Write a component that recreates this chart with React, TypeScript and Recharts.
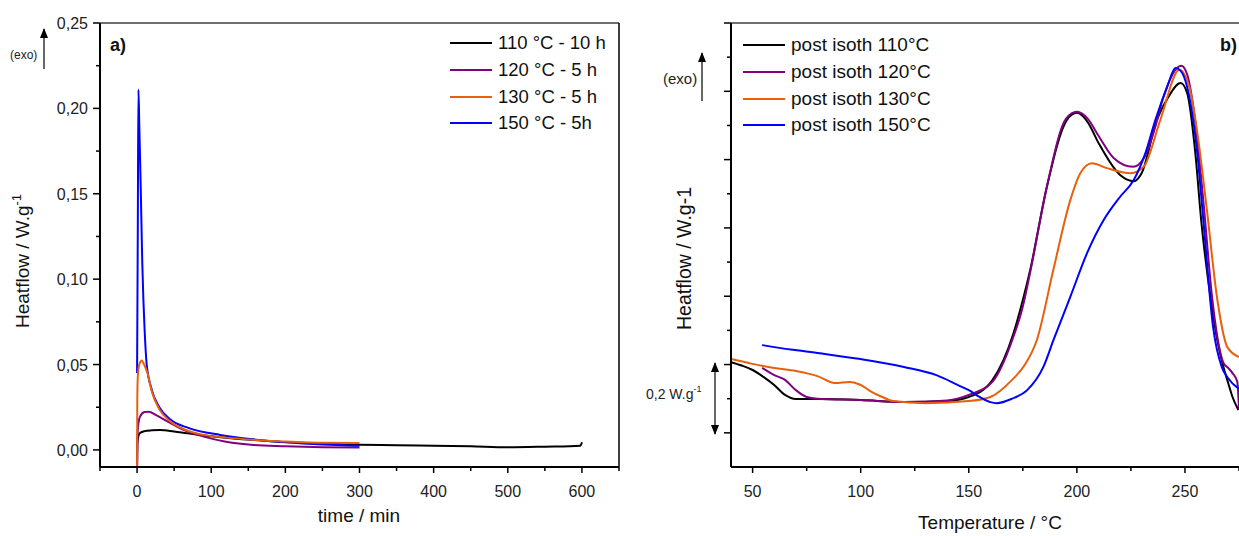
import React from 'react';
import { LineChart, Line, XAxis, YAxis, Legend, ReferenceLine } from 'recharts';

const FONT = '"Liberation Sans", Arial, Helvetica, sans-serif';

type Pt = { x: number; y: number };
const pts = (rows: number[][]): Pt[] => rows.map(([x, y]) => ({ x, y }));

// ---- panel a) : isothermal runs, heat flow (W/g) vs time (min)
const isoLabels = ['110 °C - 10 h', '120 °C - 5 h', '130 °C - 5 h', '150 °C - 5h'];
const seriesColors = ['#000000', '#800080', '#e8600c', '#0000ff'];

const iso110 = pts([
  [0, -0.01], [0.5, 0.004], [2, 0.0085], [4, 0.0099], [10, 0.011], [20, 0.0115], [31, 0.0117],
  [50, 0.0108], [67, 0.0098], [100, 0.008], [130, 0.0067], [157, 0.0059], [200, 0.0046],
  [250, 0.0037], [300, 0.003], [350, 0.0028], [400, 0.0025], [450, 0.0021], [500, 0.0015],
  [550, 0.0019], [598, 0.0025], [600, 0.0045],
]);
const iso120 = pts([
  [0, -0.01], [0.5, 0.008], [2, 0.016], [4, 0.0195], [10, 0.0222], [16, 0.0224], [25, 0.0205],
  [44.6, 0.0158], [65, 0.0113], [90, 0.0078], [120, 0.0048], [157, 0.0029], [200, 0.0022],
  [250, 0.0016], [300, 0.0014],
]);
const iso130 = pts([
  [0, -0.01], [0.3, 0.03], [1, 0.043], [3, 0.05], [6.3, 0.0523], [9, 0.0505], [14, 0.045],
  [20, 0.034], [30, 0.0238], [45, 0.0166], [65, 0.0118], [90, 0.0088], [120, 0.0072],
  [157, 0.0059], [200, 0.005], [250, 0.0042], [300, 0.004],
]);
const iso150 = pts([
  [0, 0.045], [1, 0.13], [1.8, 0.211], [3, 0.19], [5, 0.152], [7, 0.11], [8.5, 0.088], [10, 0.072],
  [13, 0.05], [20, 0.035], [30, 0.025], [45, 0.0178], [70, 0.0128], [112, 0.0088], [157, 0.0062],
  [200, 0.0045], [250, 0.0032], [300, 0.0025],
]);

const timeTicks = [-50, 0, 50, 100, 150, 200, 250, 300, 350, 400, 450, 500, 550, 600, 650];
const isoHfTicks = [0, 0.025, 0.05, 0.075, 0.1, 0.125, 0.15, 0.175, 0.2, 0.225, 0.25];

// ---- panel b) : post-isothermal scans, heat flow (arb., 0.1 W/g per tick) vs temperature
const postLabels = ['post isoth 110°C', 'post isoth 120°C', 'post isoth 130°C', 'post isoth 150°C'];

const post110 = pts([
  [40, 0.307], [45, 0.297], [50, 0.284], [55, 0.264], [60, 0.24], [65, 0.211], [70, 0.199],
  [80, 0.199], [100, 0.196], [120, 0.19], [140, 0.193], [150, 0.205], [161, 0.255], [170.6, 0.39],
  [175, 0.489], [178.4, 0.577], [186.1, 0.82], [195.4, 1.016], [200, 1.037], [205, 1.01],
  [210, 0.949], [220, 0.855], [226.3, 0.837], [230, 0.861], [237, 1.016], [242, 1.08],
  [248, 1.124], [251, 1.095], [254.8, 0.919], [257.5, 0.723], [262, 0.489], [265, 0.37],
  [267.8, 0.293], [270, 0.246], [272, 0.205], [274.7, 0.167],
]);
const post120 = pts([
  [54.4, 0.29], [60, 0.269], [65, 0.255], [70, 0.225], [75, 0.205], [80, 0.2], [100, 0.196],
  [120, 0.19], [140, 0.195], [150, 0.211], [161, 0.25], [170, 0.37], [175, 0.47], [178.4, 0.57],
  [186.1, 0.82], [195, 1.02], [200, 1.04], [205, 1.02], [210, 0.97], [217, 0.905], [226, 0.879],
  [231, 0.905], [236, 0.99], [240, 1.083], [248.3, 1.175], [251, 1.15], [255, 1.0], [258.5, 0.78],
  [262.5, 0.5], [265, 0.38], [267.8, 0.305], [270, 0.29], [272, 0.275], [274.2, 0.25], [275, 0.17],
]);
const post130 = pts([
  [40, 0.316], [50, 0.302], [60, 0.29], [70, 0.281], [80, 0.266], [88, 0.246], [95, 0.249],
  [100, 0.24], [105, 0.22], [110, 0.205], [115, 0.193], [130, 0.187], [150, 0.193], [160, 0.205],
  [170, 0.255], [176, 0.3], [181.5, 0.372], [189.1, 0.577], [197, 0.782], [201.6, 0.86],
  [207, 0.889], [213.9, 0.875], [224.7, 0.86], [230.9, 0.879], [238.6, 1.016], [247.4, 1.163],
  [252, 1.113], [256, 0.966], [260, 0.761], [265, 0.489], [269.6, 0.351], [275, 0.322],
]);
const post150 = pts([
  [54.4, 0.357], [60, 0.351], [80, 0.334], [100, 0.316], [120, 0.293], [135, 0.269], [145, 0.24],
  [150, 0.225], [155, 0.205], [160, 0.19], [163, 0.187], [170, 0.2], [177, 0.225], [184.5, 0.293],
  [189.2, 0.372], [197, 0.499], [204.7, 0.626], [212.4, 0.723], [220.1, 0.792], [226.3, 0.84],
  [231.7, 0.919], [236.3, 1.016], [241.8, 1.113], [245.6, 1.168], [248, 1.16], [251, 1.113],
  [255.7, 0.919], [258.5, 0.723], [263, 0.41], [267, 0.293], [270, 0.26], [274, 0.234], [275, 0.23],
]);

const tempTicks = [50, 75, 100, 125, 150, 175, 200, 225, 250, 275];
const postHfTicks = [0.1, 0.2, 0.3, 0.4, 0.5, 0.6, 0.7, 0.8, 0.9, 1.0, 1.1, 1.2, 1.3];

// ---- ticks (drawn by hand so minor ticks get no label)
const LeftYTick = ({ x, y, payload }: any) => {
  const v: number = payload.value;
  const major = Math.round(v * 1000) % 50 === 0;
  return (
    <g>
      <line x1={x - (major ? 7 : 4)} x2={x} y1={y} y2={y} stroke="#000" strokeWidth={1.5} />
      {major && (
        <text x={x - 12} y={y + 6} textAnchor="end" fontSize={16} fontFamily={FONT} fill="#222">
          {v.toFixed(2).replace('.', ',')}
        </text>
      )}
    </g>
  );
};

const LeftXTick = ({ x, y, payload }: any) => {
  const v: number = payload.value;
  const major = v % 100 === 0;
  return (
    <g>
      <line x1={x} x2={x} y1={y} y2={y + (major ? 6 : 4)} stroke="#000" strokeWidth={1.5} />
      {major && (
        <text x={x} y={y + 30} textAnchor="middle" fontSize={16} fontFamily={FONT} fill="#222">
          {v}
        </text>
      )}
    </g>
  );
};

const RightYTick = ({ x, y, payload }: any) => {
  const major = Math.round(payload.value * 10) % 2 === 1;
  return <line x1={x - (major ? 7 : 4)} x2={x} y1={y} y2={y} stroke="#000" strokeWidth={1.5} />;
};

const RightXTick = ({ x, y, payload }: any) => {
  const v: number = payload.value;
  const major = v % 50 === 0;
  return (
    <g>
      <line x1={x} x2={x} y1={y} y2={y + (major ? 6 : 4)} stroke="#000" strokeWidth={1.5} />
      {major && (
        <text x={x} y={y + 30} textAnchor="middle" fontSize={16} fontFamily={FONT} fill="#222">
          {v}
        </text>
      )}
    </g>
  );
};

const LegendBox = ({ labels, fontSize }: { labels: string[]; fontSize: number }) => (
  <div style={{ fontFamily: FONT, fontSize, color: '#111' }}>
    {labels.map((l, i) => (
      <div key={l} style={{ display: 'flex', alignItems: 'center', height: 26.7 }}>
        <span
          style={{
            display: 'inline-block',
            width: 42,
            height: 0,
            borderTop: `2.5px solid ${seriesColors[i]}`,
            marginRight: 6,
          }}
        />
        <span style={{ whiteSpace: 'nowrap' }}>{l}</span>
      </div>
    ))}
  </div>
);

const axisStroke = { stroke: '#000', strokeWidth: 2 };

export default function App() {
  return (
    <div style={{ position: 'absolute', left: 0, top: 0, width: 1239, height: 536, background: '#fff', overflow: 'hidden' }}>
      {/* a) isothermal */}
      <div style={{ position: 'absolute', left: 0, top: 0 }}>
        <LineChart width={640} height={536} margin={{ top: 23, right: 21, bottom: 0, left: 0 }}>
          <XAxis
            type="number"
            dataKey="x"
            domain={[-50, 650]}
            ticks={timeTicks}
            interval={0}
            allowDataOverflow
            height={69}
            tickSize={0}
            tickMargin={0}
            tickLine={false}
            axisLine={axisStroke}
            tick={(p: any) => <LeftXTick {...p} />}
          />
          <YAxis
            type="number"
            domain={[-0.01, 0.25]}
            ticks={isoHfTicks}
            interval={0}
            allowDataOverflow
            width={100}
            tickSize={0}
            tickMargin={0}
            tickLine={false}
            axisLine={axisStroke}
            tick={(p: any) => <LeftYTick {...p} />}
          />
          <ReferenceLine y={0.25} stroke="#707070" strokeWidth={2} />
          <ReferenceLine x={650} stroke="#000" strokeWidth={1.5} />
          <Line data={iso110} dataKey="y" name={isoLabels[0]} type="monotone" stroke={seriesColors[0]} strokeWidth={2} dot={false} isAnimationActive={false} />
          <Line data={iso120} dataKey="y" name={isoLabels[1]} type="monotone" stroke={seriesColors[1]} strokeWidth={2} dot={false} isAnimationActive={false} />
          <Line data={iso150} dataKey="y" name={isoLabels[3]} type="monotone" stroke={seriesColors[3]} strokeWidth={2} dot={false} isAnimationActive={false} />
          <Line data={iso130} dataKey="y" name={isoLabels[2]} type="monotone" stroke={seriesColors[2]} strokeWidth={2} dot={false} isAnimationActive={false} />
          <Legend
            layout="vertical"
            align="center"
            verticalAlign="middle"
            wrapperStyle={{ left: 450, top: 30, width: 170 }}
            content={() => <LegendBox labels={isoLabels} fontSize={18.5} />}
          />
        </LineChart>
      </div>

      {/* b) post-isothermal scans */}
      <div style={{ position: 'absolute', left: 640, top: 0 }}>
        <LineChart width={599} height={536} margin={{ top: 23, right: 0, bottom: 0, left: 0 }}>
          <XAxis
            type="number"
            dataKey="x"
            domain={[40, 275]}
            ticks={tempTicks}
            interval={0}
            allowDataOverflow
            height={69}
            tickSize={0}
            tickMargin={0}
            tickLine={false}
            axisLine={axisStroke}
            tick={(p: any) => <RightXTick {...p} />}
          />
          <YAxis
            type="number"
            domain={[0, 1.3]}
            ticks={postHfTicks}
            interval={0}
            allowDataOverflow
            width={91}
            tickSize={0}
            tickMargin={0}
            tickLine={false}
            axisLine={axisStroke}
            tick={(p: any) => <RightYTick {...p} />}
          />
          <ReferenceLine y={1.3} stroke="#707070" strokeWidth={2} />
          <Line data={post110} dataKey="y" name={postLabels[0]} type="monotone" stroke={seriesColors[0]} strokeWidth={2} dot={false} isAnimationActive={false} />
          <Line data={post120} dataKey="y" name={postLabels[1]} type="monotone" stroke={seriesColors[1]} strokeWidth={2} dot={false} isAnimationActive={false} />
          <Line data={post130} dataKey="y" name={postLabels[2]} type="monotone" stroke={seriesColors[2]} strokeWidth={2} dot={false} isAnimationActive={false} />
          <Line data={post150} dataKey="y" name={postLabels[3]} type="monotone" stroke={seriesColors[3]} strokeWidth={2} dot={false} isAnimationActive={false} />
          <Legend
            layout="vertical"
            align="center"
            verticalAlign="middle"
            wrapperStyle={{ left: 103, top: 32, width: 200 }}
            content={() => <LegendBox labels={postLabels} fontSize={19} />}
          />
        </LineChart>
      </div>

      {/* annotations and axis titles */}
      <svg width={1239} height={536} style={{ position: 'absolute', left: 0, top: 0, pointerEvents: 'none' }} fontFamily={FONT}>
        <defs>
          <marker id="ah" markerWidth="10" markerHeight="8" refX="9" refY="4" orient="auto-start-reverse" markerUnits="userSpaceOnUse" viewBox="0 0 10 8">
            <path d="M0,0 L10,4 L0,8 z" fill="#000" />
          </marker>
        </defs>

        <text x={110} y={51} fontSize={18} fontWeight="bold" fill="#111">a)</text>
        <text x={1220} y={51} fontSize={18} fontWeight="bold" fill="#111">b)</text>

        <text x={10} y={59} fontSize={12} fill="#222">(exo)</text>
        <line x1={44} y1={69} x2={44} y2={29} stroke="#000" strokeWidth={1.2} markerEnd="url(#ah)" />
        <text x={663} y={84} fontSize={15} fill="#222">(exo)</text>
        <line x1={702} y1={101} x2={702} y2={53} stroke="#000" strokeWidth={1.2} markerEnd="url(#ah)" />

        <text x={646} y={399} fontSize={14} fill="#222">
          0,2 W.g<tspan fontSize={9} dy={-7}>-1</tspan>
        </text>
        <line x1={715} y1={363} x2={715} y2={434} stroke="#000" strokeWidth={1.2} markerStart="url(#ah)" markerEnd="url(#ah)" />

        <text transform="translate(29,328) rotate(-90)" fontSize={19} fill="#111">
          Heatflow / W.g<tspan fontSize={13} dy={-8}>-1</tspan>
        </text>
        <text transform="translate(691,330) rotate(-90)" fontSize={19.5} fill="#111">
          Heatflow / W.g-1
        </text>

        <text x={359} y={522} textAnchor="middle" fontSize={19} fill="#111">time / min</text>
        <text x={990} y={529} textAnchor="middle" fontSize={19} fill="#111">Temperature / °C</text>
      </svg>
    </div>
  );
}
